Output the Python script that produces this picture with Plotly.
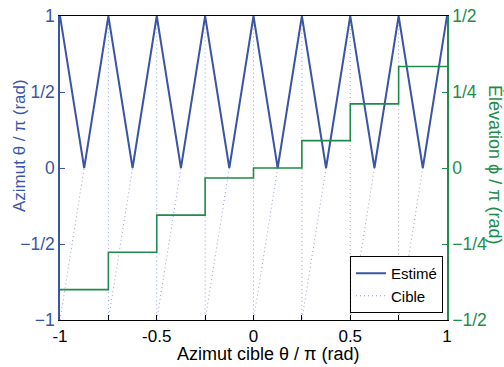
import plotly.graph_objects as go

# Estimated azimuth (folded), theta/pi
est_x = [-1, -0.875, -0.75, -0.625, -0.5, -0.375, -0.25, -0.125, 0,
         0.125, 0.25, 0.375, 0.5, 0.625, 0.75, 0.875, 1]
est_y = [1, 0, 1, 0, 1, 0, 1, 0, 1, 0, 1, 0, 1, 0, 1, 0, 1]

# Target azimuth (sawtooth), theta/pi
cib_x = [-1, -0.75, -0.75, -0.5, -0.5, -0.25, -0.25, 0, 0,
         0.25, 0.25, 0.5, 0.5, 0.75, 0.75, 1]
cib_y = [-1, 1, -1, 1, -1, 1, -1, 1, -1, 1, -1, 1, -1, 1, -1, 1]

# Elevation steps, phi/pi
elev_x = [-1, -0.75, -0.5, -0.25, 0, 0.25, 0.5, 0.75, 1]
elev_y = [-0.40, -0.277, -0.155, -0.033, 0.0, 0.09, 0.211, 0.334, 0.334]

x_ticks = [-1, -0.75, -0.5, -0.25, 0, 0.25, 0.5, 0.75, 1]
x_ticktext = ["-1", "", "-0.5", "", "0", "", "0.5", "", "1"]
y_ticks = [-1, -0.5, 0, 0.5, 1]
y_ticktext = ["\u22121", "\u22121/2", "0", "1/2", "1"]
y2_ticks = [-0.5, -0.25, 0, 0.25, 0.5]
y2_ticktext = ["\u22121/2", "\u22121/4", "0", "1/4", "1/2"]

BLUE = "#3a55a5"
GREEN = "#1e8c4a"
DOT = "#8f9fd8"
FONT = "Liberation Sans"

L, R, T, B = 60, 447, 16, 320
W, H = R - L, B - T

fig = go.Figure()
fig.add_trace(go.Scatter(x=cib_x, y=cib_y, mode="lines", name="Cible",
                         line=dict(color=DOT, width=1, dash="1px,3px")))
fig.add_trace(go.Scatter(x=elev_x, y=elev_y, mode="lines", yaxis="y2",
                         showlegend=False, line=dict(color=GREEN, width=1.6, shape="hv")))
fig.add_trace(go.Scatter(x=est_x, y=est_y, mode="lines", name="Estimé",
                         line=dict(color=BLUE, width=2)))

fig.update_layout(
    width=504, height=367,
    margin=dict(l=L, r=504 - R, t=T, b=367 - B, autoexpand=False),
    paper_bgcolor="white", plot_bgcolor="white",
    font=dict(family=FONT, size=15, color="black"),
    showlegend=True,
    legend=dict(x=(443 - L) / W, y=(B - 313) / H, xanchor="right", yanchor="bottom",
                bordercolor="black", borderwidth=1, bgcolor="white",
                traceorder="reversed", font=dict(size=15),
                tracegroupgap=0, itemwidth=30),
    xaxis=dict(range=[-1, 1], tickvals=x_ticks, ticktext=x_ticktext,
               ticks="inside", ticklen=5, tickcolor="black",
               showline=True, linecolor="black", linewidth=1.2, mirror=True,
               showgrid=False, zeroline=False, automargin=False,
               tickfont=dict(size=17)),
    yaxis=dict(range=[-1, 1], tickvals=y_ticks, ticktext=y_ticktext,
               ticks="inside", ticklen=5, tickcolor=BLUE,
               showline=True, linecolor=BLUE, linewidth=1.5,
               showgrid=False, zeroline=False, automargin=False,
               tickfont=dict(color=BLUE, size=17.5)),
    yaxis2=dict(range=[-0.5, 0.5], overlaying="y", side="right",
                tickvals=y2_ticks, ticktext=y2_ticktext,
                ticks="inside", ticklen=5, tickcolor=GREEN,
                showline=True, linecolor=GREEN, linewidth=1.5,
                showgrid=False, zeroline=False, automargin=False,
                tickfont=dict(color=GREEN, size=17.5)),
    annotations=[
        dict(text="Azimut cible θ / π (rad)",
             xref="paper", yref="paper", x=(268 - L) / W, y=(B - 354) / H,
             xanchor="center", yanchor="middle", showarrow=False,
             font=dict(color="black", size=18, family=FONT)),
        dict(text="Azimut θ / π (rad)", textangle=-90,
             xref="paper", yref="paper", x=(19 - L) / W, y=(B - 146) / H,
             xanchor="center", yanchor="middle", showarrow=False,
             font=dict(color=BLUE, size=17, family=FONT)),
        dict(text="Élévation ϕ / π (rad)", textangle=90,
             xref="paper", yref="paper", x=(495 - L) / W, y=(B - 165) / H,
             xanchor="center", yanchor="middle", showarrow=False,
             font=dict(color=GREEN, size=18, family=FONT)),
    ],
)

fig.write_html("out.html", config={"displayModeBar": False},
               post_script="document.body.style.margin='0';document.body.style.overflow='hidden';")
